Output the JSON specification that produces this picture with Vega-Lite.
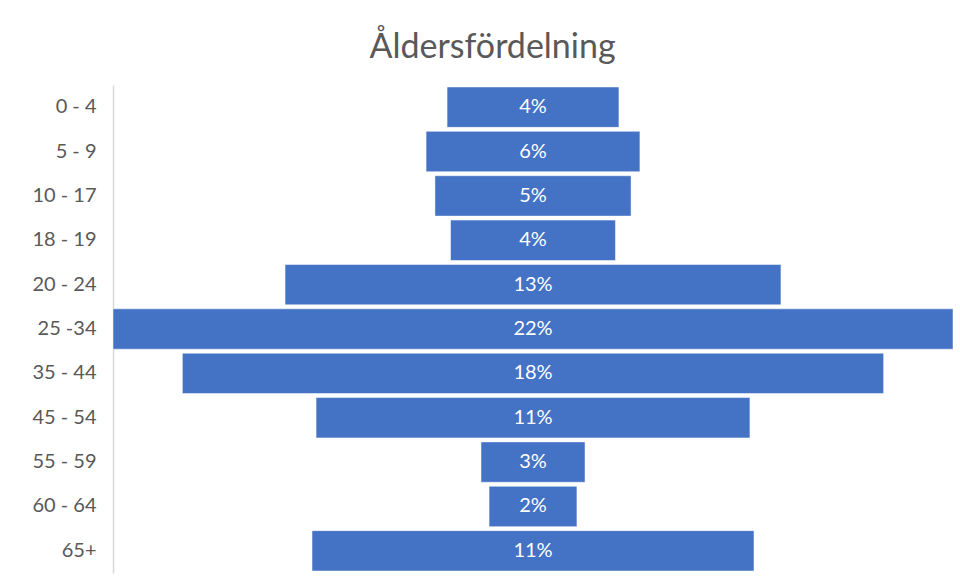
{
  "$schema": "https://vega.github.io/schema/vega-lite/v6.json",
  "width": 840,
  "height": 488,
  "autosize": {"type": "none"},
  "padding": {"left": 113, "top": 85, "right": 7, "bottom": 8},
  "background": "white",
  "config": {"view": {"stroke": null}, "font": "Lato"},
  "title": {
    "text": "Åldersfördelning",
    "anchor": "middle",
    "frame": "bounds",
    "fontSize": 34,
    "fontWeight": "normal",
    "color": "#595959",
    "font": "Lato",
    "offset": 20
  },
  "data": {
    "values": [
      {"age": "0 - 4", "share": 0.0446},
      {"age": "5 - 9", "share": 0.0555},
      {"age": "10 - 17", "share": 0.0509},
      {"age": "18 - 19", "share": 0.0428},
      {"age": "20 - 24", "share": 0.1287},
      {"age": "25 -34", "share": 0.218},
      {"age": "35 - 44", "share": 0.182},
      {"age": "45 - 54", "share": 0.1126},
      {"age": "55 - 59", "share": 0.027},
      {"age": "60 - 64", "share": 0.0228},
      {"age": "65+", "share": 0.1147}
    ]
  },
  "encoding": {
    "y": {
      "field": "age",
      "type": "nominal",
      "sort": null,
      "scale": {"paddingInner": 0.09, "paddingOuter": 0.045},
      "axis": {
        "title": null,
        "ticks": false,
        "domainColor": "#d9d9d9",
        "domainWidth": 1.5,
        "labelFontSize": 20,
        "labelColor": "#595959",
        "labelPadding": 17,
        "labelFont": "Lato"
      }
    }
  },
  "layer": [
    {
      "mark": {"type": "bar", "color": "#4472C4", "stroke": "white", "strokeWidth": 0.5},
      "encoding": {
        "x": {
          "field": "share",
          "type": "quantitative",
          "stack": "center",
          "scale": {"domain": [0, 0.218], "nice": false, "zero": true},
          "axis": null
        }
      }
    },
    {
      "mark": {"type": "text", "color": "white", "fontSize": 20, "font": "Lato", "align": "center", "baseline": "middle"},
      "encoding": {
        "x": {"datum": 0.109, "type": "quantitative"},
        "text": {"field": "share", "type": "quantitative", "format": ".0%"}
      }
    }
  ]
}
